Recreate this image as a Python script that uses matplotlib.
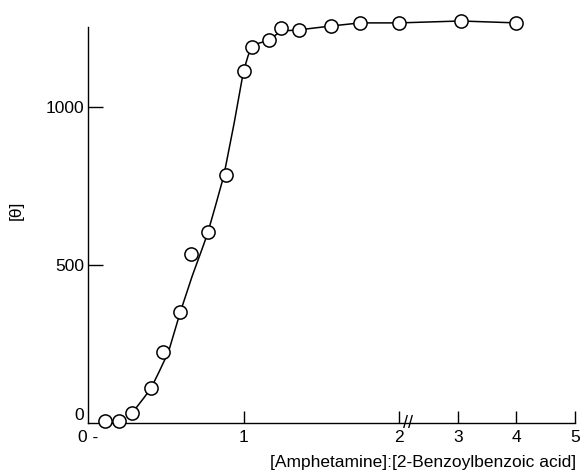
import numpy as np
import matplotlib
matplotlib.use('Agg')
import matplotlib.pyplot as plt

# measured points: molar ratio vs [theta]
ratio = [0.11, 0.20, 0.286, 0.405, 0.48, 0.594, 0.665, 0.77, 0.89, 1.0,
         1.056, 1.163, 1.239, 1.357, 1.56, 1.75, 2.0, 3.05, 4.0]
theta = [5, 5, 33, 110, 226, 352, 536, 604, 785, 1114,
         1191, 1211, 1249, 1244, 1256, 1266, 1266, 1272, 1266]

# hand-drawn curve
curve_x = [0.27, 0.286, 0.36, 0.405, 0.46, 0.518, 0.594, 0.67, 0.744, 0.77,
           0.82, 0.873, 0.94, 1.0, 1.03, 1.056, 1.10, 1.163, 1.239, 1.357,
           1.56, 1.75, 2.0, 3.05, 4.0]
curve_y = [25, 33, 80, 110, 165, 226, 352, 465, 565, 602,
           688, 782, 950, 1114, 1163, 1191, 1202, 1211, 1240, 1244,
           1256, 1266, 1266, 1272, 1266]

xticks = [0, 1, 2, 3, 4, 5]
xticklabels = ['0 -', '1', '2', '3', '4', '5']
yticks = [0, 500, 1000]

SQ = 0.377  # compression beyond the break


def fwd(x):
    x = np.asarray(x, dtype=float)
    return np.where(x <= 2, x, 2 + (x - 2) * SQ)


def inv(u):
    u = np.asarray(u, dtype=float)
    return np.where(u <= 2, u, 2 + (u - 2) / SQ)


def main():
    plt.rcParams['font.family'] = ['Liberation Sans', 'DejaVu Sans']
    fig = plt.figure(figsize=(5.85, 4.75), dpi=100)
    ax = fig.add_axes([88 / 585, 52 / 475, 487 / 585, 396 / 475])
    ax.set_xscale('function', functions=(fwd, inv))
    ax.set_xlim(0, 5)
    ax.set_ylim(0, 1253)

    ax.plot(curve_x, curve_y, color='black', lw=1.1, zorder=2, clip_on=False)
    ax.plot(ratio, theta, 'o', ms=9.5, mfc='white', mec='black', mew=1.1,
            zorder=3, clip_on=False)

    for s in ['top', 'right']:
        ax.spines[s].set_visible(False)
    for s in ['left', 'bottom']:
        ax.spines[s].set_linewidth(1.0)

    ax.set_xticks(xticks)
    ax.set_xticklabels(xticklabels)
    ax.set_yticks(yticks)
    ax.minorticks_off()
    ax.tick_params(axis='x', direction='in', length=9, width=1.0, pad=5,
                   labelsize=12.5)
    ax.tick_params(axis='y', direction='in', length=11, width=1.0, pad=3,
                   labelsize=12.5)
    ax.xaxis.get_major_ticks()[0].tick1line.set_visible(False)
    ax.yaxis.get_major_ticks()[0].tick1line.set_visible(False)
    # the y "0" sits just above the baseline, clear of the x "0"
    ax.get_yticklabels()[0].set_va('bottom')

    # axis break mark
    ax.text(2.16, 0, '//', fontsize=13, ha='center', va='center')

    fig.text(423 / 585, 13 / 475, '[Amphetamine]:[2-Benzoylbenzoic acid]',
             ha='center', va='center', fontsize=12.5)
    fig.text(16 / 585, 1 - 210 / 475, '[θ]', rotation=90,
             ha='center', va='center', fontsize=12.5)

    fig.savefig('out.png', dpi=100)
    plt.close(fig)


if __name__ == '__main__':

    main()
